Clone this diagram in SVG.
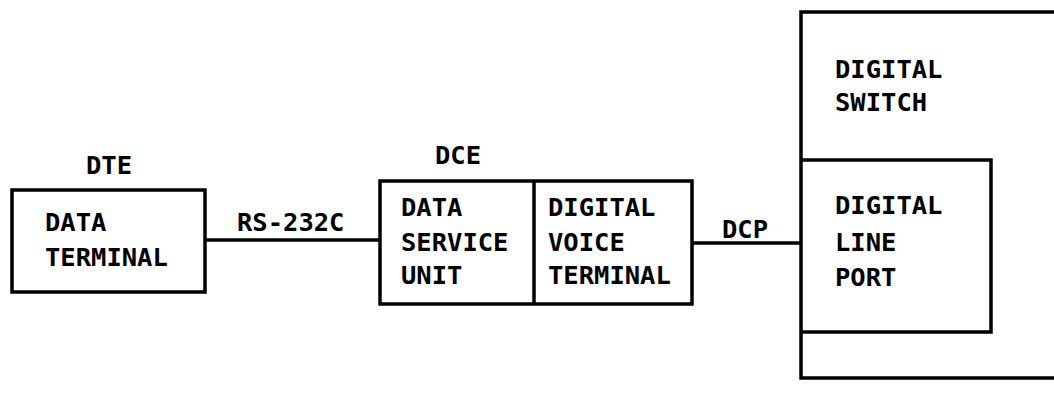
<svg xmlns="http://www.w3.org/2000/svg" width="1054" height="398" viewBox="0 0 1054 398">
<style>
.box{fill:none;stroke:#000;stroke-width:3.5}
.ln{stroke:#000;stroke-width:3.5;fill:none}
text{font-family:"DejaVu Sans Mono","Liberation Mono",monospace;font-weight:bold;font-size:25.5px;fill:#000}
</style>
<rect width="1054" height="398" fill="#fff"/>
<g id="connectors">
<line class="ln" x1="205" y1="240" x2="380" y2="240"/>
<line class="ln" x1="692" y1="243" x2="801" y2="243"/>
<text x="237" y="231">RS-232C</text>
<text x="722" y="238">DCP</text>
</g>
<g id="dte">
<text x="86" y="174">DTE</text>
<rect class="box" x="12" y="190" width="193" height="102"/>
<text x="45" y="231">DATA</text>
<text x="45" y="266">TERMINAL</text>
</g>
<g id="dce">
<text x="435" y="164">DCE</text>
<rect class="box" x="380" y="181" width="312" height="123"/>
<line class="ln" x1="534" y1="181" x2="534" y2="304"/>
<text x="401" y="216">DATA</text>
<text x="401" y="251">SERVICE</text>
<text x="401" y="284">UNIT</text>
<text x="548" y="216">DIGITAL</text>
<text x="548" y="251">VOICE</text>
<text x="548" y="284">TERMINAL</text>
</g>
<g id="switch">
<path class="ln" d="M1056,12 H801 V378 H1056"/>
<text x="835" y="78">DIGITAL</text>
<text x="835" y="111">SWITCH</text>
</g>
<g id="port">
<path class="ln" d="M801,160 H991 V332 H801"/>
<text x="835" y="214">DIGITAL</text>
<text x="835" y="251">LINE</text>
<text x="835" y="286">PORT</text>
</g>
</svg>
